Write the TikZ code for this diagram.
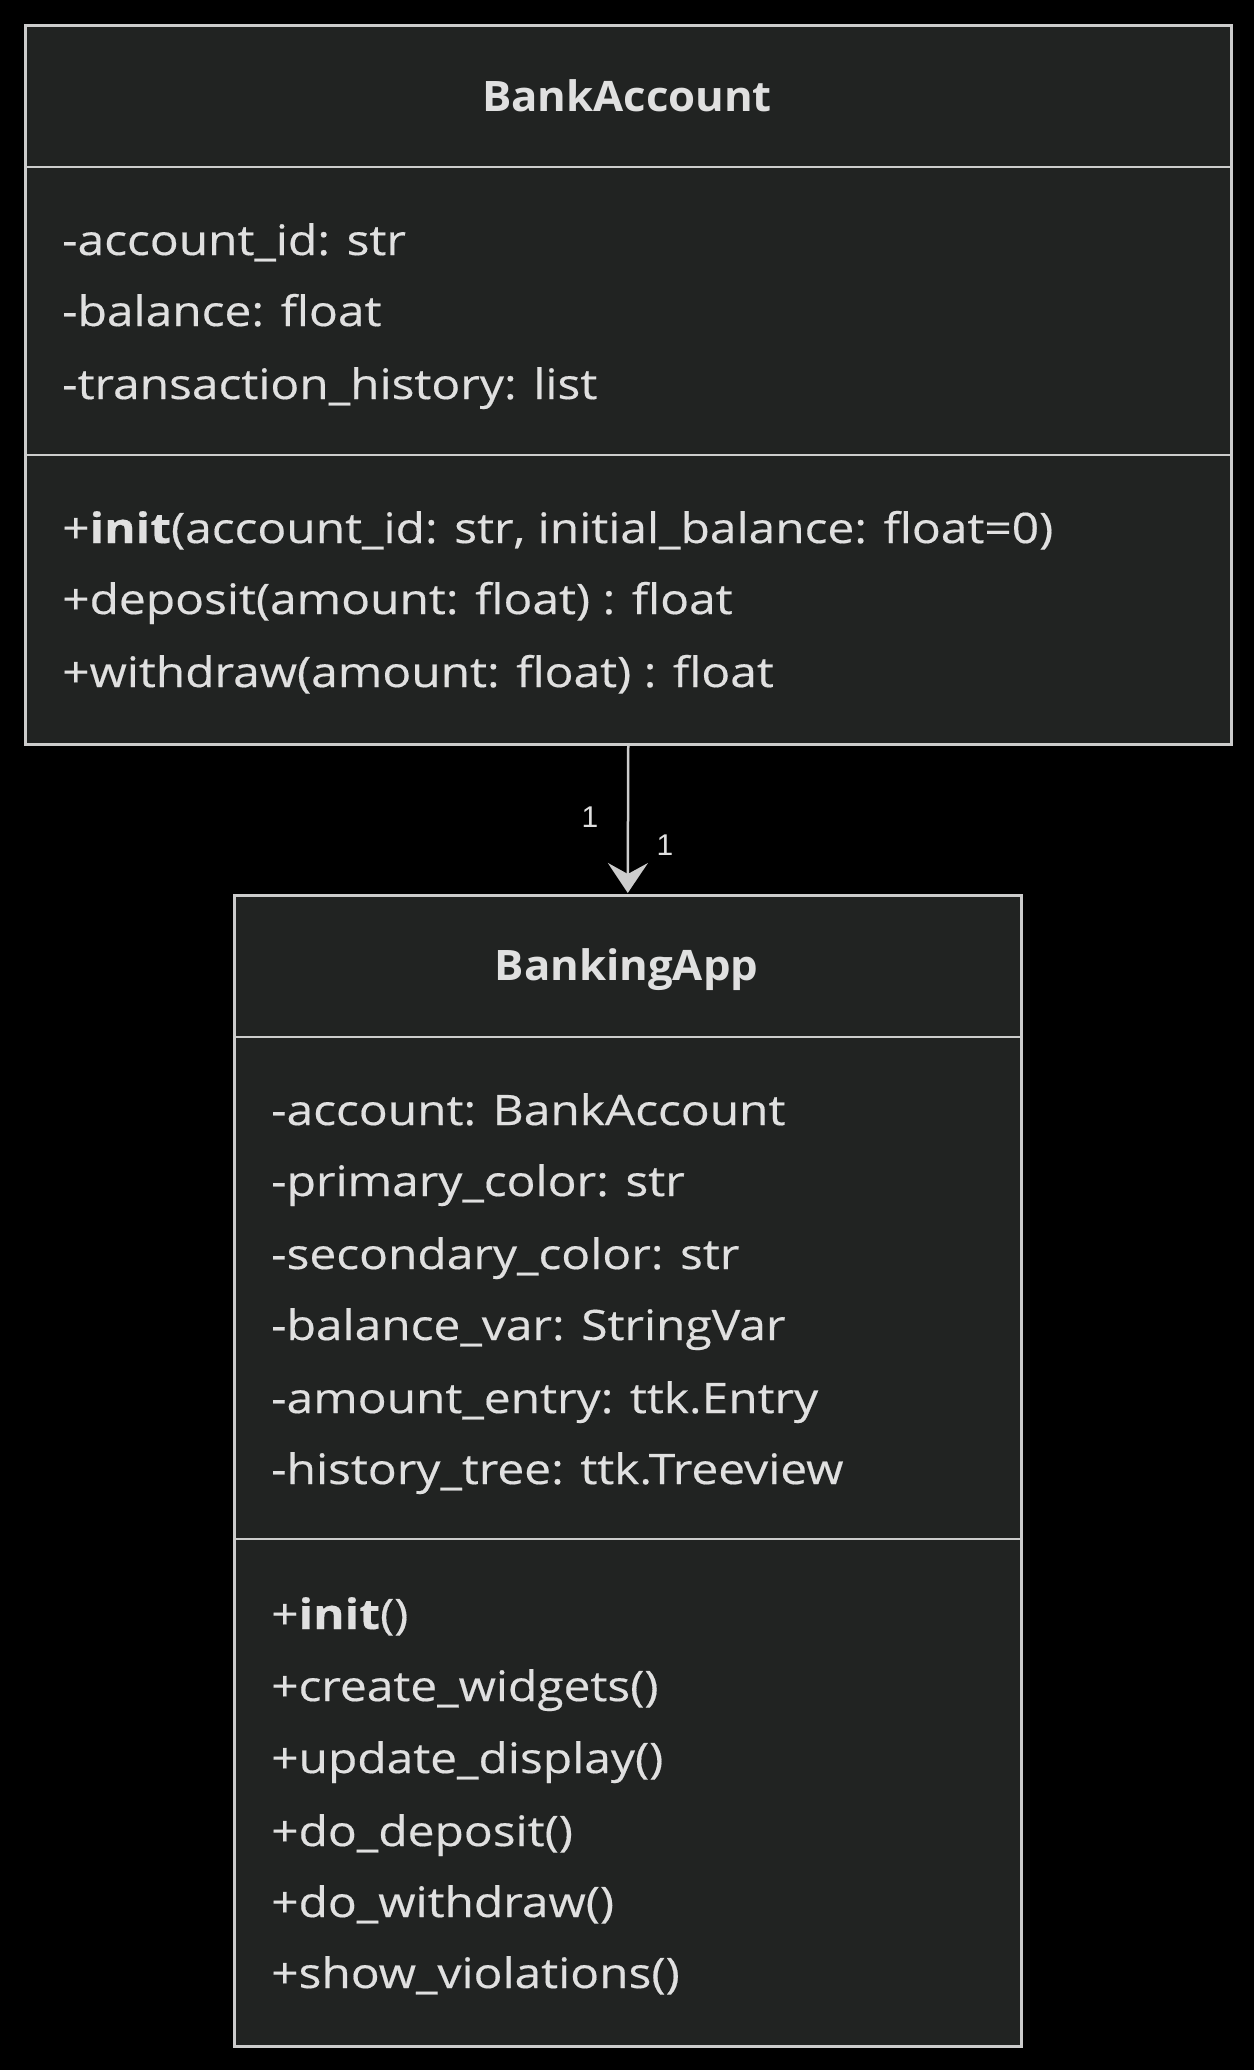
\documentclass[tikz,border=0pt]{standalone}
\usepackage{fontspec}
\setmainfont[FakeStretch=1.14,FakeBold=0.4]{Open Sans}
\newfontfamily\titlefont[FakeStretch=1.04]{Open Sans}
\newfontfamily\labelfont{Liberation Sans}
\usetikzlibrary{arrows.meta}
\definecolor{boxfill}{HTML}{212322}
\definecolor{edgecol}{HTML}{CCCCCC}
\definecolor{txt}{HTML}{E0E0E0}
\begin{document}
\begin{tikzpicture}[x=1pt,y=-1pt,
  classbox/.style={draw=edgecol, fill=boxfill, line width=2.5pt, anchor=north west, inner sep=0pt},
  divider/.style={draw=edgecol, line width=2.5pt},
  member/.style={anchor=base west, text=txt, inner sep=0pt, font=\fontsize{42}{50}\selectfont},
  classtitle/.style={anchor=base, text=txt, inner sep=0pt, font=\titlefont\fontsize{42}{50}\selectfont\bfseries},
  mult/.style={text=txt, inner sep=0pt, font=\labelfont\fontsize{30}{34}\selectfont},
  assoc/.style={draw=edgecol, line width=2.5pt, -{Stealth[length=30pt,width=40pt,inset=11pt]}}]
\useasboundingbox[fill=black] (0,0) rectangle (1254,2070);

% BankAccount
\node[classbox, minimum width=1206pt, minimum height=719pt] (ba) at (24,24) {};
\draw[divider] (24,167) -- (1230,167);
\draw[divider] (24,455) -- (1230,455);
\node[classtitle] (batitle) at (627,111) {BankAccount};
\node[member] (baa1) at (62,255) {-account\_id: str};
\node[member] (baa2) at (62,326) {-balance: float};
\node[member] (baa3) at (62,399) {-transaction\_history: list};
\node[member] (bam1) at (62,543) {+\textbf{init}(account\_id: str, initial\_balance: float=0)};
\node[member] (bam2) at (62,614) {+deposit(amount: float) : float};
\node[member] (bam3) at (62,687) {+withdraw(amount: float) : float};

% BankingApp
\node[classbox, minimum width=787pt, minimum height=1151pt] (app) at (233,894) {};
\draw[divider] (233,1539) -- (1020,1539);
\draw[divider] (233,1037) -- (1020,1037);
\node[classtitle] (apptitle) at (626.5,980) {BankingApp};
\node[member] (apa1) at (271,1125) {-account: BankAccount};
\node[member] (apa2) at (271,1196) {-primary\_color: str};
\node[member] (apa3) at (271,1269) {-secondary\_color: str};
\node[member] (apa4) at (271,1340) {-balance\_var: StringVar};
\node[member] (apa5) at (271,1413) {-amount\_entry: ttk.Entry};
\node[member] (apa6) at (271,1484) {-history\_tree: ttk.Treeview};
\node[member] (apm1) at (271,1629) {+\textbf{init}()};
\node[member] (apm2) at (271,1701) {+create\_widgets()};
\node[member] (apm3) at (271,1773) {+update\_display()};
\node[member] (apm4) at (271,1846) {+do\_deposit()};
\node[member] (apm5) at (271,1917) {+do\_withdraw()};
\node[member] (apm6) at (271,1988) {+show\_violations()};

% association
\draw[assoc] (ba.south) -- ([yshift=1pt]app.north);
\node[mult] (m1) at (590,817) {1};
\node[mult] (m2) at (665,845) {1};
\end{tikzpicture}
\end{document}
